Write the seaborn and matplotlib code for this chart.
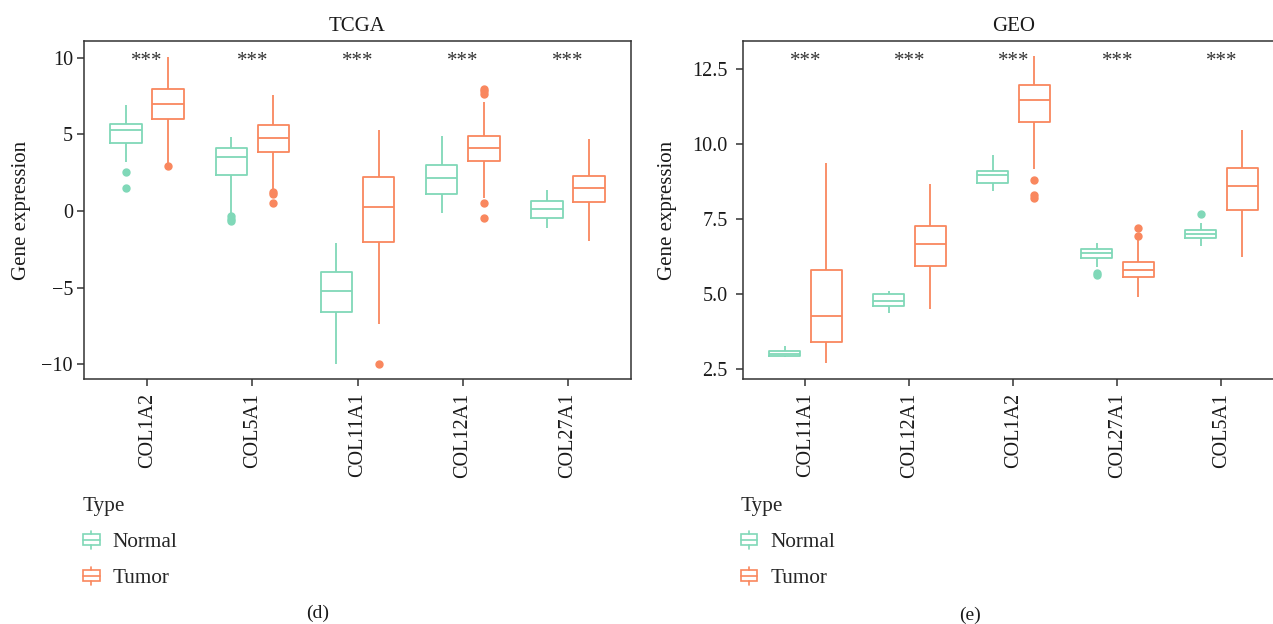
import numpy as np
import pandas as pd
import matplotlib
matplotlib.use("Agg")
import matplotlib.pyplot as plt
import seaborn as sns
from matplotlib.legend_handler import HandlerBase
from matplotlib.lines import Line2D
from matplotlib.patches import Rectangle

NORMAL_COLOR = "#80D8B8"
TUMOR_COLOR = "#F9875E"
types = ["Normal", "Tumor"]

# TCGA: (lower whisker, Q1, median, Q3, upper whisker) read per gene
tcga_genes = ["COL1A2", "COL5A1", "COL11A1", "COL12A1", "COL27A1"]
tcga_normal = [
    (3.22, 4.44, 5.28, 5.65, 6.89),
    (-0.15, 2.35, 3.54, 4.09, 4.83),
    (-10.0, -6.59, -5.20, -3.96, -2.11),
    (-0.11, 1.13, 2.13, 3.02, 4.91),
    (-1.13, -0.46, 0.15, 0.67, 1.37),
]
tcga_tumor = [
    (3.15, 6.00, 7.00, 7.98, 10.07),
    (1.40, 3.87, 4.78, 5.61, 7.57),
    (-7.37, -2.02, 0.24, 2.24, 5.28),
    (0.83, 3.26, 4.13, 4.91, 7.09),
    (-1.98, 0.57, 1.50, 2.30, 4.68),
]
tcga_normal_out = [[2.53, 1.48], [-0.35, -0.50, -0.62], [], [], []]
tcga_tumor_out = [[2.96], [1.22, 1.10, 0.53], [-10.0], [7.95, 7.80, 7.60, 0.50, -0.48], []]

# GEO
geo_genes = ["COL11A1", "COL12A1", "COL1A2", "COL27A1", "COL5A1"]
geo_normal = [
    (2.90, 2.94, 3.03, 3.12, 3.28),
    (4.37, 4.61, 4.77, 5.00, 5.13),
    (8.44, 8.72, 8.97, 9.10, 9.64),
    (5.92, 6.23, 6.39, 6.53, 6.70),
    (6.62, 6.89, 7.01, 7.14, 7.37),
]
geo_tumor = [
    (2.70, 3.42, 4.27, 5.83, 9.39),
    (4.51, 5.95, 6.67, 7.29, 8.67),
    (9.17, 10.74, 11.48, 11.98, 12.94),
    (4.90, 5.57, 5.81, 6.09, 6.81),
    (6.25, 7.81, 8.62, 9.20, 10.48),
]
geo_normal_out = [[], [], [], [5.70, 5.66], [7.67]]
geo_tumor_out = [[], [], [8.83, 8.30, 8.20], [7.23, 6.95], []]


def box_sample(stats, outliers, k=10):
    """Sample whose boxplot statistics give back the five numbers read."""
    lo, q1, med, q3, hi = stats
    return [lo] + [q1] * k + [med] * k + [q3] * k + [hi] + list(outliers)


def build_frame(genes, normal, tumor, normal_out, tumor_out):
    rows = []
    for kind, stats, outs in (("Normal", normal, normal_out), ("Tumor", tumor, tumor_out)):
        for g, s, o in zip(genes, stats, outs):
            rows += [(g, kind, v) for v in box_sample(s, o)]
    return pd.DataFrame(rows, columns=["gene", "Type", "value"])


class BoxHandler(HandlerBase):
    """Small box-with-whiskers legend key, like ggplot's."""

    def create_artists(self, legend, orig_handle, xdescent, ydescent,
                       width, height, fontsize, trans):
        color = orig_handle.get_edgecolor()
        x0, y0 = -xdescent, -ydescent
        cx = x0 + width / 2
        b0, b1 = y0 + height * 0.2, y0 + height * 0.8
        box = Rectangle((x0, b0), width, b1 - b0, facecolor="white",
                        edgecolor=color, lw=1.2, transform=trans)
        med = Line2D([x0, x0 + width], [(b0 + b1) / 2] * 2, color=color, lw=1.2, transform=trans)
        w1 = Line2D([cx, cx], [y0, b0], color=color, lw=1.2, transform=trans)
        w2 = Line2D([cx, cx], [b1, y0 + height], color=color, lw=1.2, transform=trans)
        return [box, med, w1, w2]


sns.set_theme(style="ticks")
plt.rcParams["font.family"] = ["Liberation Serif", "DejaVu Serif"]
plt.rcParams["axes.edgecolor"] = "#333333"
plt.rcParams["axes.linewidth"] = 1.1

fig = plt.figure(figsize=(12.73, 6.24), dpi=100)
ax_l = fig.add_axes([0.066, 0.3926, 0.4297, 0.5417])
ax_r = fig.add_axes([0.5837, 0.3926, 0.4247, 0.5417])

panels = [
    (ax_l, "TCGA", tcga_genes, tcga_normal, tcga_tumor, tcga_normal_out, tcga_tumor_out,
     (-10.96, 11.09), [-10, -5, 0, 5, 10], -0.097, 3),
    (ax_r, "GEO", geo_genes, geo_normal, geo_tumor, geo_normal_out, geo_tumor_out,
     (2.18, 13.45), [2.5, 5.0, 7.5, 10.0, 12.5], -0.122, 6),
]

for ax, title, genes, nrm, tum, nrm_o, tum_o, ylim, yticks, ylab_x, tpad in panels:
    df = build_frame(genes, nrm, tum, nrm_o, tum_o)
    sns.boxplot(
        data=df, x="gene", y="value", hue="Type", order=genes, hue_order=types,
        palette=[NORMAL_COLOR, TUMOR_COLOR], fill=False, width=0.8, gap=0.25,
        linewidth=1.3, fliersize=5, flierprops={"marker": "o"}, showcaps=False,
        legend=False, ax=ax,
    )
    # filled outlier dots
    for line in ax.lines:
        if line.get_marker() == "o":
            line.set_markerfacecolor(line.get_markeredgecolor())

    # significance stars sit at the top of the data
    star_y = df["value"].max()
    for i in range(len(genes)):
        ax.annotate("***", (i, star_y), xytext=(0, -3.5), textcoords="offset points",
                    ha="center", va="center", fontsize=15, color="#333333")

    ax.set_xlim(-0.6, len(genes) - 0.4)
    ax.set_ylim(*ylim)
    ax.set_yticks(yticks)
    if title == "TCGA":
        ax.set_yticklabels([f"{t:g}".replace("-", "\u2212") for t in yticks])
    else:
        ax.set_yticklabels([f"{t:.1f}" for t in yticks])
    ax.tick_params(axis="both", labelsize=14.5, length=5, width=1.1, color="#333333",
                   labelcolor="#1a1a1a", pad=3)
    ax.tick_params(axis="y", pad=tpad)
    ax.tick_params(axis="x", labelrotation=90, pad=5)
    ax.set_xlabel("")
    ax.set_ylabel("Gene expression", fontsize=15, color="#1a1a1a")
    ax.yaxis.set_label_coords(ylab_x, 0.5)
    ax.set_title(title, fontsize=15, pad=7, color="#1a1a1a")
    for sp in ax.spines.values():
        sp.set_visible(True)

handles = [Rectangle((0, 0), 1, 1, edgecolor=NORMAL_COLOR, facecolor="white"),
           Rectangle((0, 0), 1, 1, edgecolor=TUMOR_COLOR, facecolor="white")]
for x_anchor in (0.0652, 0.582):
    fig.legend(handles, types, title="Type", loc="upper left",
               bbox_to_anchor=(x_anchor, 0.2035), frameon=False, alignment="left",
               fontsize=15.3, title_fontsize=15.3, handlelength=0.78, handleheight=0.9,
               handletextpad=0.62, labelspacing=0.7, borderpad=0, borderaxespad=0,
               handler_map={Rectangle: BoxHandler()})

fig.text(318 / 1273, 1 - 613 / 624, "(d)", ha="center", va="center", fontsize=14, color="#1a1a1a")
fig.text(970 / 1273, 1 - 615 / 624, "(e)", ha="center", va="center", fontsize=14, color="#1a1a1a")

fig.savefig("out.png", dpi=100)
